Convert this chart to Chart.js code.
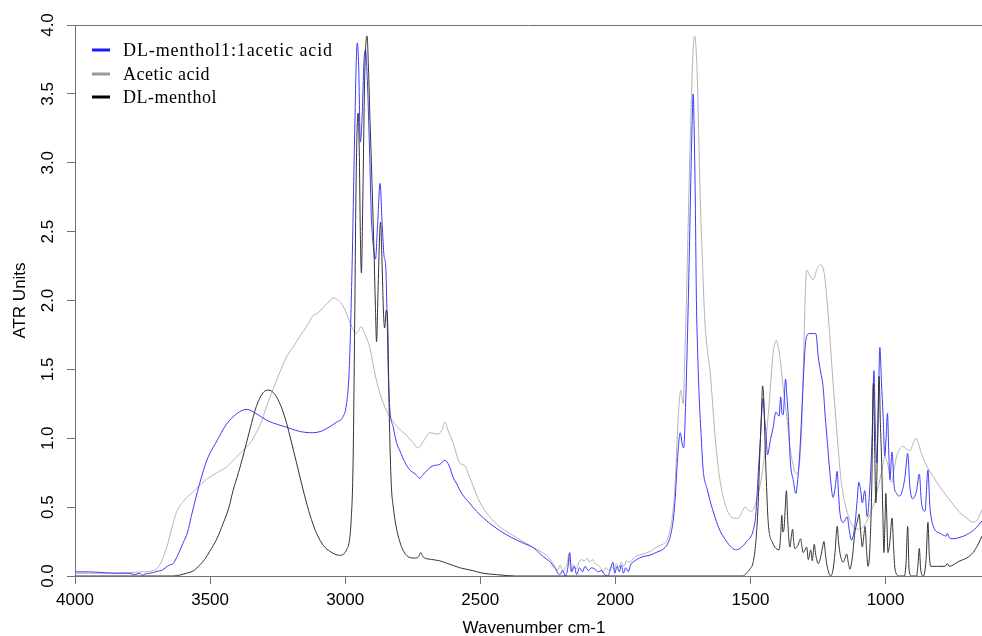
<!DOCTYPE html>
<html>
<head>
<meta charset="utf-8">
<title>ATR spectra</title>
<script src="https://cdn.jsdelivr.net/npm/chart.js@4.4.1/dist/chart.umd.min.js"></script>
<style>
  html, body { margin: 0; padding: 0; background: #fff; }
  #wrap { width: 982px; height: 636px; position: relative; }
</style>
</head>
<body>
<div id="wrap"><canvas id="spectrum"></canvas></div>
<script>
// tick labels
const xTicks = [4000, 3500, 3000, 2500, 2000, 1500, 1000];
const yTicks = [0, 0.5, 1, 1.5, 2, 2.5, 3, 3.5, 4];

const seriesNames = ['DL-menthol1:1acetic acid', 'Acetic acid', 'DL-menthol'];

// DL-menthol 1:1 acetic acid (blue)
const blendWn = [4000, 3950, 3900, 3850, 3800, 3780, 3760, 3750, 3740, 3725, 3710, 3695, 3680, 3665, 3650, 3637, 3620, 3600, 3583, 3570, 3555, 3539, 3510, 3475, 3440, 3400, 3365, 3330, 3290, 3250, 3217, 3170, 3120, 3090, 3060, 3030, 3010, 2995, 2985, 2975, 2965, 2958, 2955, 2950, 2944, 2938, 2930, 2925, 2918, 2910, 2903, 2895, 2888, 2880, 2871, 2863, 2856, 2850, 2845, 2840, 2835, 2822, 2810, 2798, 2780, 2761, 2740, 2724, 2710, 2690, 2675, 2650, 2631, 2615, 2601, 2585, 2569, 2540, 2514, 2470, 2428, 2385, 2342, 2300, 2267, 2240, 2225, 2206, 2195, 2185, 2176, 2169, 2162, 2152, 2143, 2133, 2122, 2112, 2100, 2088, 2076, 2064, 2052, 2040, 2028, 2018, 2009, 2002, 1994, 1985, 1978, 1970, 1962, 1952, 1944, 1935, 1921, 1900, 1873, 1850, 1820, 1805, 1795, 1785, 1778, 1770, 1760, 1752, 1747, 1740, 1733, 1727, 1720, 1715, 1712, 1708, 1704, 1700, 1695, 1690, 1682, 1675, 1660, 1650, 1630, 1613, 1595, 1576, 1555, 1539, 1514, 1490, 1480, 1471, 1463, 1457, 1453, 1448, 1443, 1437, 1426, 1416, 1406, 1398, 1394, 1388, 1383, 1379, 1370, 1365, 1360, 1352, 1342, 1332, 1325, 1317, 1305, 1298, 1292, 1280, 1268, 1258, 1249, 1240, 1231, 1223, 1216, 1206, 1194, 1186, 1179, 1174, 1169, 1156, 1142, 1134, 1126, 1114, 1105, 1099, 1092, 1086, 1077, 1068, 1058, 1050, 1043, 1038, 1033, 1027, 1021, 1015, 1009, 1003, 998, 993, 988, 984, 976, 968, 959, 950, 941, 928, 918, 910, 900, 885, 875, 867, 854, 843, 836, 823, 798, 775, 771, 765, 750, 725, 700, 670, 643];
const blendAbs = [0.03, 0.03, 0.025, 0.02, 0.02, 0.01, 0.02, 0.005, 0.015, 0.02, 0.025, 0.035, 0.04, 0.06, 0.08, 0.09, 0.15, 0.24, 0.32, 0.43, 0.55, 0.67, 0.85, 0.98, 1.10, 1.18, 1.21, 1.18, 1.13, 1.10, 1.08, 1.05, 1.04, 1.05, 1.08, 1.12, 1.15, 1.25, 1.50, 2.20, 3.20, 3.80, 3.87, 3.70, 3.15, 3.30, 3.75, 3.82, 3.60, 3.10, 2.60, 2.38, 2.30, 2.55, 2.85, 2.55, 2.32, 2.25, 1.90, 1.45, 1.22, 1.08, 0.97, 0.91, 0.83, 0.77, 0.74, 0.71, 0.74, 0.78, 0.80, 0.81, 0.84, 0.80, 0.72, 0.66, 0.60, 0.53, 0.47, 0.39, 0.33, 0.28, 0.24, 0.20, 0.14, 0.10, 0.06, 0.01, 0.04, 0.00, 0.06, 0.17, 0.03, 0.07, 0.01, 0.06, 0.03, 0.07, 0.04, 0.06, 0.05, 0.03, 0.04, 0.01, 0.00, 0.05, 0.10, 0.02, 0.07, 0.03, 0.08, 0.02, 0.06, 0.03, 0.08, 0.10, 0.12, 0.14, 0.15, 0.17, 0.20, 0.24, 0.30, 0.42, 0.58, 0.85, 1.04, 0.95, 0.93, 1.25, 1.75, 2.27, 2.95, 3.35, 3.50, 3.20, 2.70, 2.00, 1.60, 1.31, 1.00, 0.77, 0.63, 0.55, 0.42, 0.33, 0.27, 0.22, 0.19, 0.20, 0.25, 0.33, 0.45, 0.75, 1.00, 1.22, 1.29, 1.15, 1.05, 0.88, 0.99, 1.08, 1.19, 1.17, 1.16, 1.30, 1.18, 1.17, 1.43, 1.30, 1.16, 0.82, 0.70, 0.60, 0.70, 0.91, 1.40, 1.65, 1.74, 1.76, 1.76, 1.76, 1.59, 1.48, 1.37, 1.15, 0.99, 0.75, 0.57, 0.65, 0.76, 0.60, 0.46, 0.39, 0.43, 0.33, 0.26, 0.36, 0.55, 0.68, 0.62, 0.53, 0.62, 0.43, 0.65, 1.00, 1.49, 1.10, 0.82, 1.20, 1.66, 1.40, 1.16, 0.87, 1.00, 1.18, 0.90, 0.70, 0.90, 0.65, 0.60, 0.58, 0.60, 0.72, 0.89, 0.65, 0.56, 0.62, 0.74, 0.53, 0.47, 0.77, 0.51, 0.36, 0.31, 0.29, 0.31, 0.28, 0.27, 0.28, 0.30, 0.34, 0.40];

// Acetic acid (grey)
const aceticWn = [4000, 3900, 3800, 3750, 3711, 3690, 3662, 3640, 3625, 3595, 3564, 3514, 3475, 3440, 3410, 3379, 3350, 3329, 3310, 3291, 3270, 3254, 3217, 3190, 3168, 3140, 3119, 3100, 3082, 3060, 3045, 3025, 3008, 2990, 2971, 2960, 2950, 2942, 2932, 2920, 2909, 2890, 2872, 2847, 2810, 2773, 2750, 2730, 2710, 2687, 2656, 2640, 2631, 2620, 2601, 2576, 2557, 2540, 2526, 2500, 2465, 2430, 2391, 2350, 2305, 2270, 2249, 2224, 2214, 2204, 2195, 2186, 2178, 2172, 2165, 2155, 2145, 2135, 2125, 2115, 2105, 2095, 2085, 2075, 2065, 2055, 2045, 2035, 2025, 2015, 2005, 1996, 1987, 1978, 1968, 1959, 1945, 1934, 1915, 1897, 1870, 1848, 1825, 1811, 1798, 1788, 1780, 1768, 1762, 1758, 1752, 1749, 1743, 1737, 1730, 1724, 1718, 1712, 1706, 1701, 1697, 1692, 1687, 1678, 1669, 1660, 1650, 1640, 1632, 1620, 1607, 1590, 1576, 1560, 1545, 1530, 1520, 1502, 1490, 1478, 1465, 1453, 1435, 1425, 1416, 1408, 1404, 1398, 1391, 1379, 1367, 1354, 1336, 1327, 1317, 1310, 1305, 1300, 1296, 1292, 1280, 1268, 1255, 1241, 1232, 1225, 1212, 1194, 1175, 1163, 1144, 1120, 1095, 1071, 1046, 1030, 1021, 1010, 1003, 991, 978, 968, 959, 935, 922, 910, 898, 888, 880, 867, 848, 823, 800, 774, 750, 725, 700, 676, 660, 643];
const aceticAbs = [0.02, 0.02, 0.025, 0.03, 0.04, 0.07, 0.20, 0.36, 0.46, 0.55, 0.61, 0.70, 0.75, 0.79, 0.85, 0.91, 0.97, 1.04, 1.12, 1.23, 1.34, 1.42, 1.59, 1.67, 1.74, 1.82, 1.89, 1.91, 1.95, 1.99, 2.02, 2.00, 1.96, 1.88, 1.79, 1.76, 1.78, 1.81, 1.78, 1.72, 1.66, 1.47, 1.33, 1.20, 1.09, 1.02, 0.97, 0.93, 0.98, 1.04, 1.03, 1.07, 1.12, 1.06, 0.97, 0.82, 0.80, 0.72, 0.65, 0.53, 0.43, 0.36, 0.31, 0.26, 0.21, 0.17, 0.14, 0.07, 0.04, 0.08, 0.03, 0.06, 0.09, 0.16, 0.04, 0.08, 0.05, 0.10, 0.12, 0.11, 0.13, 0.10, 0.12, 0.09, 0.08, 0.06, 0.03, 0.06, 0.04, 0.07, 0.05, 0.09, 0.06, 0.10, 0.07, 0.11, 0.10, 0.13, 0.15, 0.16, 0.18, 0.21, 0.23, 0.25, 0.33, 0.45, 0.63, 1.12, 1.30, 1.35, 1.28, 1.25, 1.60, 2.00, 2.60, 3.09, 3.50, 3.83, 3.92, 3.82, 3.64, 3.25, 2.82, 2.30, 1.86, 1.65, 1.50, 1.25, 1.04, 0.80, 0.63, 0.50, 0.44, 0.42, 0.42, 0.47, 0.50, 0.47, 0.48, 0.55, 0.65, 0.80, 1.15, 1.40, 1.62, 1.70, 1.71, 1.67, 1.59, 1.37, 1.18, 0.94, 0.76, 0.74, 0.85, 1.10, 1.45, 1.85, 2.10, 2.22, 2.18, 2.15, 2.22, 2.26, 2.24, 2.17, 1.89, 1.40, 0.92, 0.67, 0.48, 0.36, 0.34, 0.39, 0.51, 0.62, 0.70, 0.80, 0.87, 0.80, 0.68, 0.78, 0.87, 0.94, 0.92, 0.91, 0.96, 1.00, 0.97, 0.89, 0.80, 0.72, 0.65, 0.58, 0.52, 0.46, 0.42, 0.39, 0.41, 0.48];

// DL-menthol (black)
const mentholWn = [4000, 3700, 3637, 3588, 3560, 3538, 3520, 3501, 3475, 3452, 3430, 3415, 3395, 3378, 3353, 3329, 3304, 3283, 3265, 3254, 3235, 3217, 3200, 3180, 3160, 3143, 3125, 3106, 3080, 3057, 3040, 3020, 3005, 2995, 2985, 2978, 2971, 2965, 2960, 2955, 2952, 2948, 2944, 2940, 2935, 2928, 2922, 2919, 2914, 2908, 2903, 2894, 2888, 2884, 2878, 2872, 2869, 2864, 2858, 2854, 2848, 2843, 2838, 2835, 2829, 2822, 2816, 2798, 2773, 2742, 2728, 2721, 2712, 2705, 2680, 2650, 2620, 2576, 2530, 2490, 2440, 2370, 1530, 1515, 1502, 1490, 1480, 1472, 1466, 1460, 1455, 1450, 1445, 1441, 1435, 1429, 1420, 1410, 1394, 1388, 1384, 1380, 1376, 1371, 1367, 1362, 1354, 1349, 1344, 1340, 1336, 1325, 1314, 1310, 1305, 1298, 1292, 1286, 1281, 1277, 1271, 1267, 1264, 1258, 1249, 1240, 1232, 1228, 1222, 1216, 1203, 1194, 1187, 1179, 1174, 1169, 1157, 1150, 1144, 1138, 1132, 1122, 1114, 1104, 1098, 1092, 1086, 1080, 1076, 1070, 1065, 1058, 1051, 1045, 1040, 1036, 1030, 1024, 1019, 1015, 1010, 1006, 1002, 999, 995, 991, 984, 976, 970, 965, 950, 930, 924, 918, 913, 905, 885, 880, 875, 870, 860, 850, 843, 838, 832, 811, 780, 771, 765, 725, 700, 676, 660, 643];
const mentholAbs = [0.0, 0.0, 0.0, 0.02, 0.04, 0.08, 0.12, 0.18, 0.27, 0.38, 0.50, 0.62, 0.75, 0.87, 1.06, 1.23, 1.33, 1.35, 1.33, 1.30, 1.22, 1.11, 0.98, 0.82, 0.66, 0.53, 0.41, 0.31, 0.22, 0.18, 0.16, 0.15, 0.16, 0.19, 0.25, 0.40, 0.80, 1.80, 2.80, 3.30, 3.36, 3.10, 2.50, 2.20, 2.70, 3.60, 3.90, 3.92, 3.70, 3.30, 3.00, 2.40, 1.95, 1.70, 2.10, 2.50, 2.57, 2.30, 1.90, 1.80, 1.93, 1.85, 1.30, 1.01, 0.65, 0.50, 0.41, 0.25, 0.15, 0.13, 0.14, 0.17, 0.14, 0.13, 0.12, 0.11, 0.09, 0.06, 0.04, 0.02, 0.01, 0.0, 0.0, 0.02, 0.05, 0.10, 0.25, 0.50, 0.85, 1.15, 1.38, 1.25, 0.90, 0.68, 0.41, 0.30, 0.25, 0.21, 0.19, 0.30, 0.44, 0.32, 0.34, 0.50, 0.62, 0.40, 0.21, 0.28, 0.34, 0.25, 0.20, 0.22, 0.27, 0.22, 0.17, 0.19, 0.21, 0.12, 0.16, 0.19, 0.11, 0.18, 0.23, 0.15, 0.09, 0.14, 0.22, 0.25, 0.15, 0.07, 0.0, 0.05, 0.17, 0.36, 0.25, 0.17, 0.10, 0.13, 0.16, 0.10, 0.05, 0.15, 0.31, 0.40, 0.45, 0.32, 0.21, 0.30, 0.36, 0.18, 0.07, 0.20, 0.65, 1.40, 0.90, 0.53, 0.90, 1.45, 1.10, 0.87, 0.45, 0.17, 0.40, 0.60, 0.40, 0.17, 0.25, 0.42, 0.20, 0.05, 0.0, 0.0, 0.10, 0.36, 0.05, 0.0, 0.0, 0.08, 0.20, 0.05, 0.0, 0.12, 0.39, 0.15, 0.07, 0.07, 0.07, 0.09, 0.07, 0.11, 0.13, 0.17, 0.22, 0.29];

const seriesColors = ['#3a3aff', '#b4b4b4', '#333333'];
const legendColors = ['#1a1aff', '#999999', '#000000'];

function toPoints(wn, abs) {
    return wn.map((w, i) => ({ x: w, y: abs[i] }));
}

const axisColor = '#707070';
const sansFont = "'Liberation Sans', Arial, sans-serif";

const extras = {
    id: 'extras',
    afterDraw(chart) {
        const ctx = chart.ctx;
        const area = chart.chartArea;
        const yScale = chart.scales.y;

        ctx.save();
        // top frame line
        ctx.strokeStyle = axisColor;
        ctx.lineWidth = 1;
        ctx.beginPath();
        ctx.moveTo(area.left, Math.round(area.top) + 0.5);
        ctx.lineTo(area.right, Math.round(area.top) + 0.5);
        ctx.stroke();

        // rotated y tick labels (R style)
        ctx.fillStyle = '#000';
        ctx.font = '17px ' + sansFont;
        ctx.textAlign = 'center';
        ctx.textBaseline = 'middle';
        yTicks.forEach(v => {
            const y = yScale.getPixelForValue(v);
            ctx.save();
            ctx.translate(48, y);
            ctx.rotate(-Math.PI / 2);
            ctx.fillText(v.toFixed(1), 0, 0);
            ctx.restore();
        });

        // x axis title
        ctx.fillText('Wavenumber cm-1', 534, 628);

        // legend
        ctx.font = "18px 'Liberation Serif', 'Times New Roman', serif";
        ctx.textAlign = 'left';
        const rows = [50, 74, 97];
        seriesNames.forEach((name, i) => {
            ctx.strokeStyle = legendColors[i];
            ctx.lineWidth = 3;
            ctx.beginPath();
            ctx.moveTo(92, rows[i]);
            ctx.lineTo(110, rows[i]);
            ctx.stroke();
            ctx.fillStyle = '#000';
            ctx.letterSpacing = i === 0 ? '0.9px' : '0.5px';
            ctx.fillText(name, 123, rows[i] + 1);
        });
        ctx.restore();
    }
};

new Chart(document.getElementById('spectrum'), {
    type: 'line',
    data: {
        datasets: [
            { label: seriesNames[0], data: toPoints(blendWn, blendAbs), borderColor: seriesColors[0], order: 1 },
            { label: seriesNames[1], data: toPoints(aceticWn, aceticAbs), borderColor: seriesColors[1], order: 2 },
            { label: seriesNames[2], data: toPoints(mentholWn, mentholAbs), borderColor: seriesColors[2], order: 0 }
        ]
    },
    options: {
        responsive: true,
        maintainAspectRatio: false,
        animation: false,
        devicePixelRatio: 1,
        layout: { padding: { top: 25, right: 0, left: 0, bottom: 0 } },
        datasets: {
            line: {
                borderWidth: 1,
                pointRadius: 0,
                fill: false,
                cubicInterpolationMode: 'monotone'
            }
        },
        plugins: {
            legend: { display: false },
            tooltip: { enabled: false }
        },
        scales: {
            x: {
                type: 'linear',
                reverse: true,
                min: 643,
                max: 4000,
                afterBuildTicks: scale => {
                    scale.ticks = xTicks.map(v => ({ value: v }));
                },
                afterFit: scale => { scale.height = 60; },
                ticks: {
                    color: '#000',
                    font: { size: 17, family: sansFont },
                    padding: 6,
                    maxRotation: 0,
                    callback: v => String(v)
                },
                grid: { drawOnChartArea: false, drawTicks: true, tickLength: 8, color: axisColor },
                border: { color: axisColor }
            },
            y: {
                min: 0,
                max: 4,
                afterBuildTicks: scale => {
                    scale.ticks = yTicks.map(v => ({ value: v }));
                },
                afterFit: scale => { scale.width = 75; },
                ticks: {
                    color: 'rgba(0,0,0,0)',
                    font: { size: 17, family: sansFont },
                    callback: v => v.toFixed(1)
                },
                grid: { drawOnChartArea: false, drawTicks: true, tickLength: 8, color: axisColor },
                border: { color: axisColor },
                title: {
                    display: true,
                    text: 'ATR Units',
                    color: '#000',
                    font: { size: 17, family: sansFont },
                    padding: { top: 10, bottom: 0 }
                }
            }
        }
    },
    plugins: [extras]
});
</script>
</body>
</html>
